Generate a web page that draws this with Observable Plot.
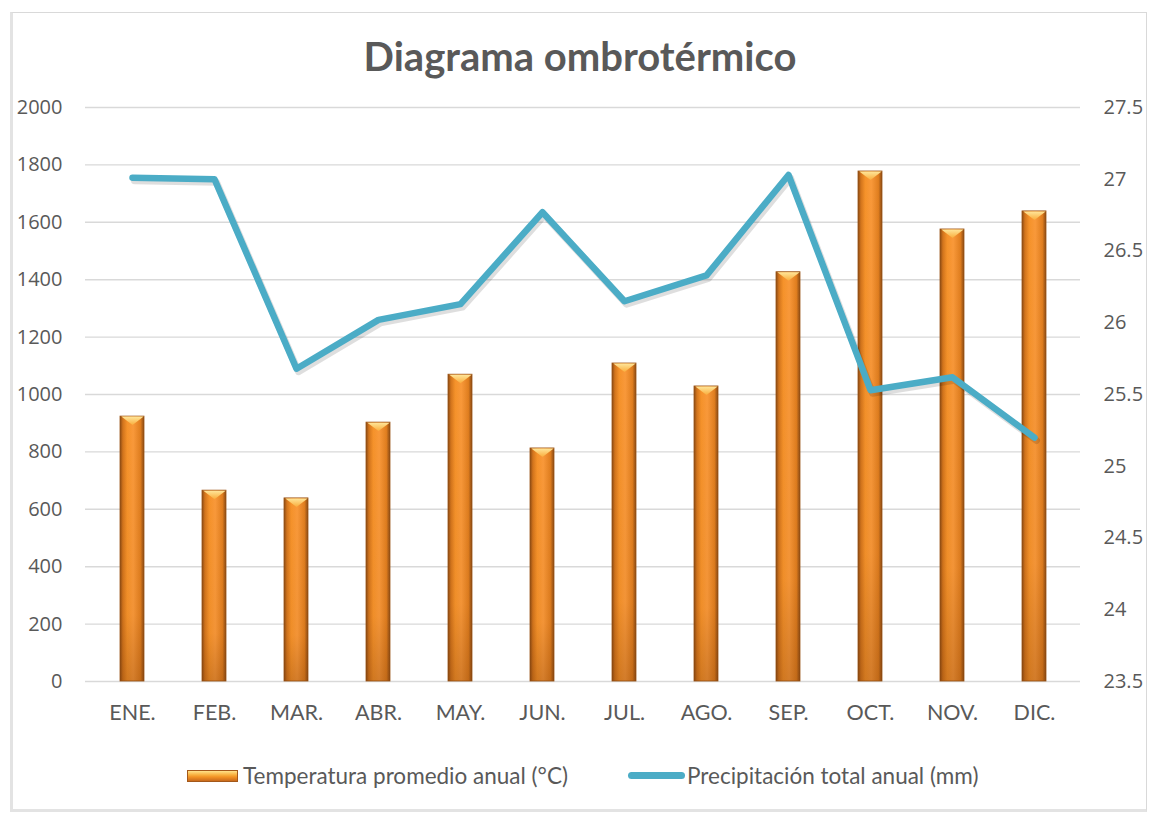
<!DOCTYPE html>
<html>
<head>
<meta charset="utf-8">
<script src="https://cdn.jsdelivr.net/npm/d3@7"></script>
<script src="https://cdn.jsdelivr.net/npm/@observablehq/plot@0.6"></script>
<style>
  body { margin: 0; background: #fff; }
  #wrap { position: relative; width: 1150px; height: 815px; overflow: hidden; background: #fff; }
  #frame { position: absolute; left: 10px; top: 12px; width: 1137px; height: 800px; border: 1px solid #d9d9d9; border-left: 3px solid #e3e3e3; border-bottom: 3px solid #e3e3e3; box-sizing: border-box; }
  #title { position: absolute; top: 36px; left: 0; width: 1160px; text-align: center; font-family: Lato, sans-serif; font-weight: bold; font-size: 40px; line-height: 1; color: #595959; }
  #chart { position: absolute; top: 90px; left: 0; }
  .lg { position: absolute; font-family: Lato, sans-serif; font-size: 22.5px; color: #595959; line-height: 1; white-space: nowrap; }
  .sw-bar { position: absolute; left: 187px; top: 770px; width: 51px; height: 12px; box-sizing: border-box; border: 1px solid #a3581a;
            background: linear-gradient(to bottom, #ffe28a 0%, #f9b546 35%, #f29324 60%, #c86a1c 100%); }
  .sw-line { position: absolute; left: 628px; top: 772px; width: 57px; height: 7px; border-radius: 4px; background: #4bacc6; }
</style>
</head>
<body>
<div id="wrap">
  <div id="frame"></div>
  <div id="title">Diagrama ombrotérmico</div>
  <div id="chart"></div>
  <div class="sw-bar"></div>
  <div class="lg" style="left:243px; top:765px;">Temperatura promedio anual (°C)</div>
  <div class="sw-line"></div>
  <div class="lg" style="left:687px; top:765px;">Precipitación total anual (mm)</div>
</div>
<script>
// ---- data ----
const months = ["ENE.","FEB.","MAR.","ABR.","MAY.","JUN.","JUL.","AGO.","SEP.","OCT.","NOV.","DIC."];
const barValues = [923, 665, 638, 902, 1069, 812, 1108, 1028, 1426, 1777, 1575, 1638];
const lineValues = [27.01, 27.00, 25.68, 26.02, 26.13, 26.77, 26.15, 26.33, 27.03, 25.53, 25.62, 25.20];
const leftTicks = [0, 200, 400, 600, 800, 1000, 1200, 1400, 1600, 1800, 2000];
const rightTicks = [23.5, 24, 24.5, 25, 25.5, 26, 26.5, 27, 27.5];

const leftDomain = [0, 2000];
const rightDomain = [23.5, 27.5];
const toLeft = t => (t - rightDomain[0]) / (rightDomain[1] - rightDomain[0]) * (leftDomain[1] - leftDomain[0]) + leftDomain[0];
const toRight = v => (v - leftDomain[0]) / (leftDomain[1] - leftDomain[0]) * (rightDomain[1] - rightDomain[0]) + rightDomain[0];

const bars = months.map((m, i) => ({month: m, value: barValues[i]}));
const line = months.map((m, i) => ({month: m, value: toLeft(lineValues[i])}));

const bevel = {
  draw(ctx, size) {
    const w = Math.sqrt(size);
    ctx.moveTo(-w / 2, 0);
    ctx.lineTo(w / 2, 0);
    ctx.lineTo(0, w * 0.38);
    ctx.closePath();
  }
};

const grey = "#595959";

const chart = Plot.plot({
  width: 1150,
  height: 655,
  marginTop: 17,
  marginBottom: 64,
  marginLeft: 85,
  marginRight: 70,
  style: { fontFamily: "Lato, sans-serif", color: grey, background: "transparent" },
  x: { domain: months, paddingInner: 0.71, paddingOuter: 0.355 },
  y: { domain: leftDomain },
  marks: [
    Plot.ruleY(leftTicks, { stroke: "#d9d9d9", strokeWidth: 1.4 }),
    Plot.axisY(leftTicks, { anchor: "left", tickSize: 0, tickPadding: 23, fontSize: 20, fontFamily: "Open Sans", fill: grey, tickFormat: d => String(d), label: null }),
    Plot.axisY(rightTicks.map(toLeft), { anchor: "right", tickSize: 0, tickPadding: 23, fontSize: 20, fontFamily: "Open Sans", fill: grey, tickFormat: d => String(+toRight(d).toFixed(2)), label: null }),
    Plot.axisX({ tickSize: 0, tickPadding: 23, fontSize: 21.5, fill: grey, label: null }),
    Plot.barY(bars, { x: "month", y: "value", fill: "url(#barGrad)", stroke: "#9a5316", strokeWidth: 0.8 }),
    Plot.barY(bars, { x: "month", y: "value", fill: "url(#barShade)" }),
    Plot.dot(bars, { x: "month", y: "value", symbol: bevel, r: 12.6, fill: "url(#bevelGrad)", stroke: "none" }),
    Plot.line(line, { x: "month", y: "value", stroke: "#000", strokeOpacity: 0.13, strokeWidth: 7, dx: 2, dy: 3, strokeLinecap: "round" }),
    Plot.line(line, { x: "month", y: "value", stroke: "#4bacc6", strokeWidth: 6.5, strokeLinecap: "round" })
  ]
});

const svg = d3.select(chart);
svg.insert("defs", ":first-child").html(`
  <linearGradient id="barGrad" x1="0" x2="1" y1="0" y2="0">
    <stop offset="0" stop-color="#8a4a14"/>
    <stop offset="0.12" stop-color="#d2741c"/>
    <stop offset="0.3" stop-color="#f5922a"/>
    <stop offset="0.55" stop-color="#f9993a"/>
    <stop offset="0.85" stop-color="#e07e1f"/>
    <stop offset="1" stop-color="#8a4a14"/>
  </linearGradient>
  <linearGradient id="barShade" x1="0" x2="0" y1="0" y2="1">
    <stop offset="0" stop-color="#7a3a08" stop-opacity="0"/>
    <stop offset="0.75" stop-color="#7a3a08" stop-opacity="0.05"/>
    <stop offset="1" stop-color="#7a3a08" stop-opacity="0.3"/>
  </linearGradient>
  <linearGradient id="bevelGrad" x1="0" x2="0" y1="0" y2="1">
    <stop offset="0" stop-color="#ffe69a"/>
    <stop offset="1" stop-color="#f9ad3c"/>
  </linearGradient>
`);

document.getElementById("chart").appendChild(chart);
</script>
</body>
</html>
